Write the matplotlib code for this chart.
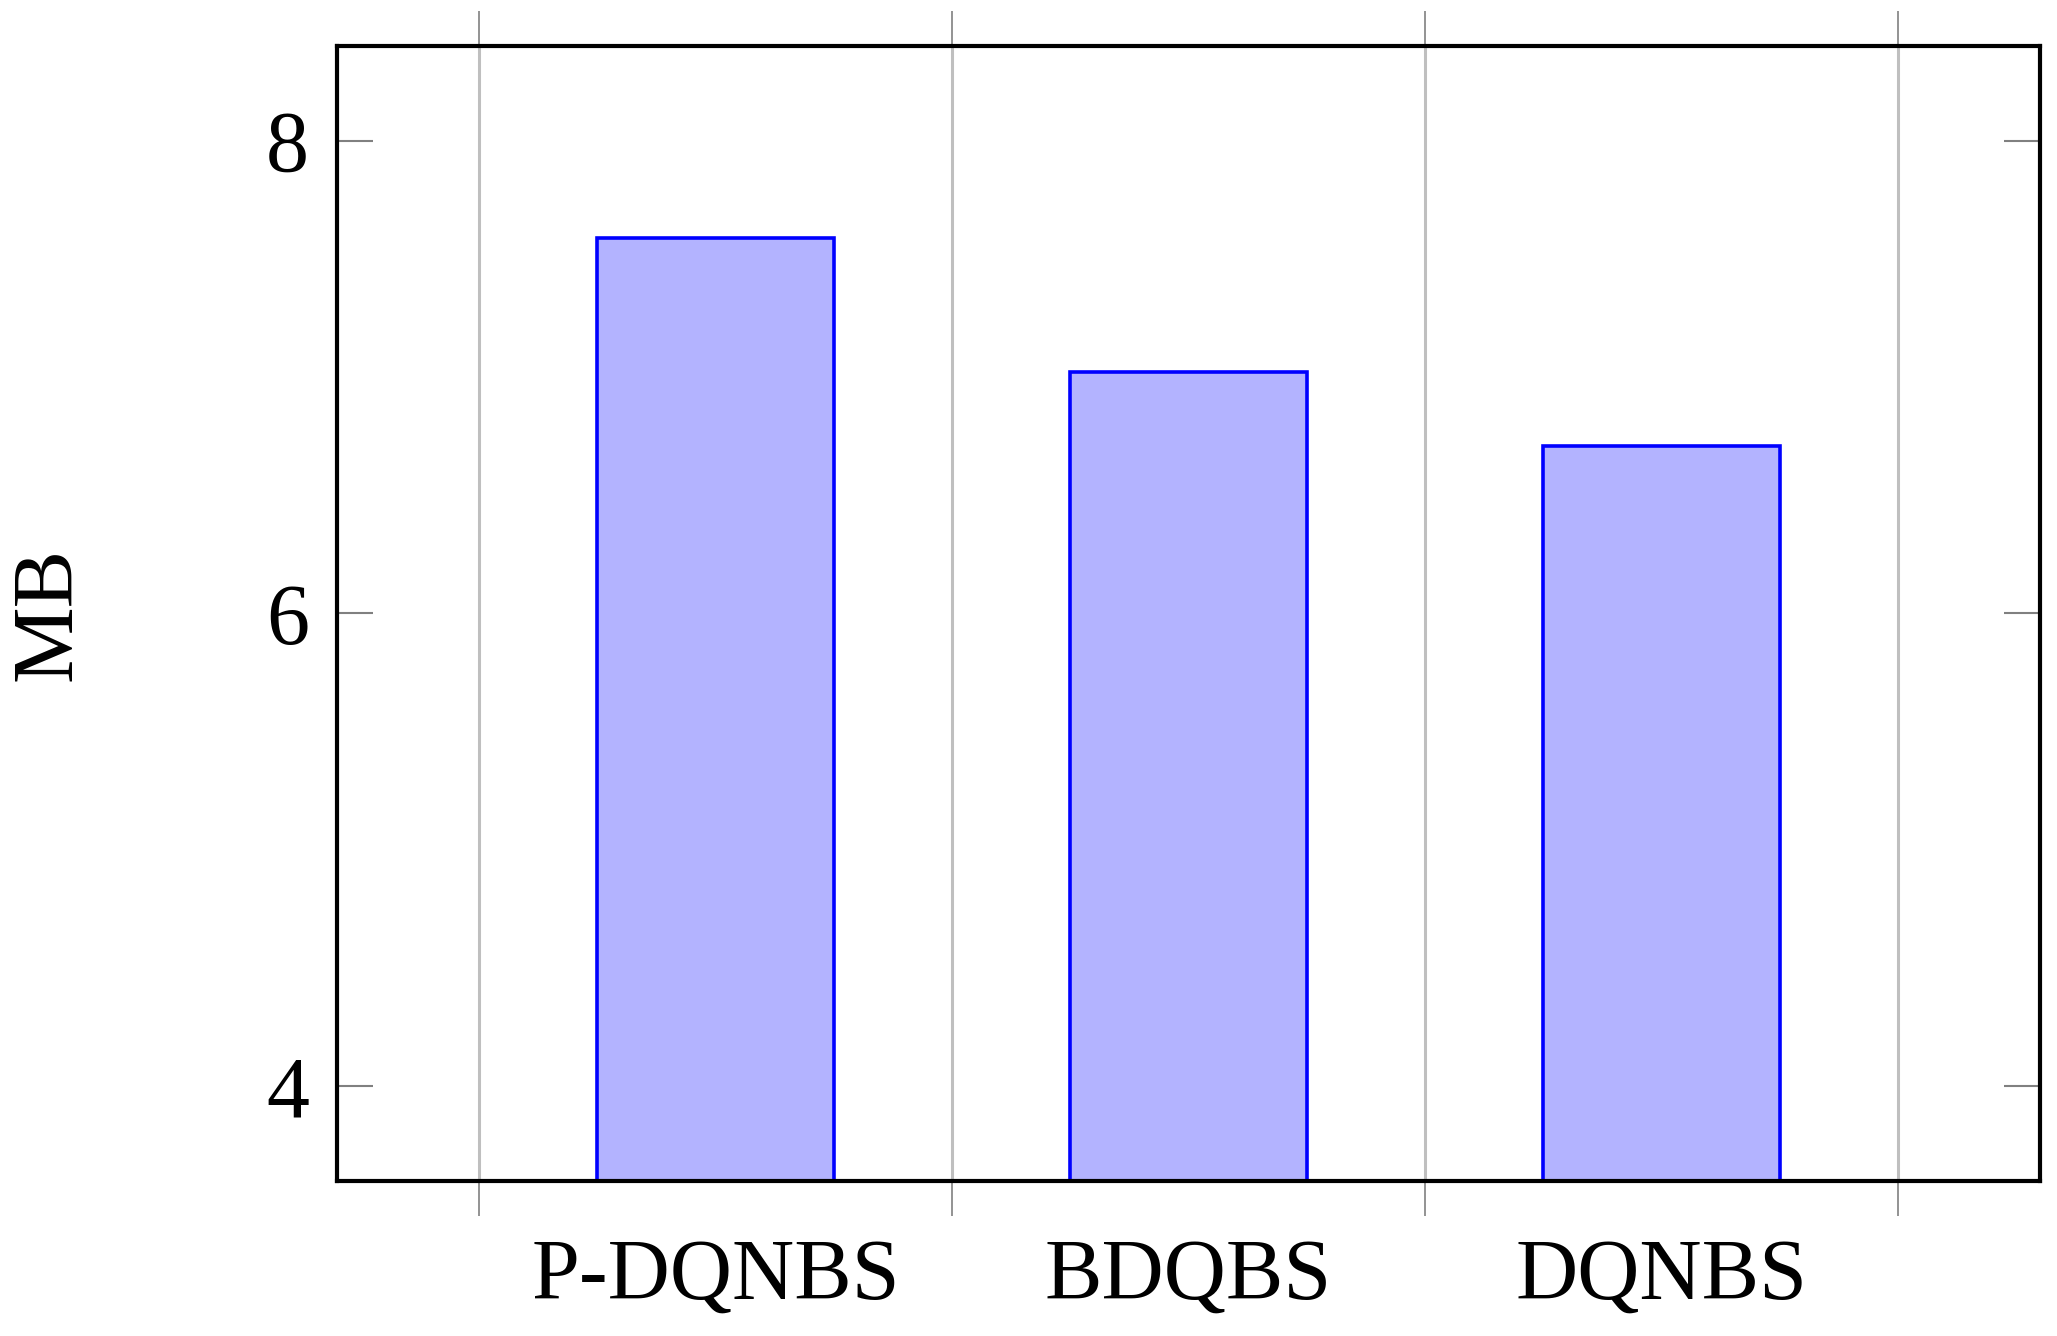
import matplotlib
matplotlib.use("Agg")
import matplotlib.pyplot as plt
from matplotlib.ticker import FixedLocator

# data
methods = ["P-DQNBS", "BDQBS", "DQNBS"]
memory_mb = [7.59, 7.02, 6.71]
y_ticks = [4, 6, 8]

FILL = "#b3b3ff"
EDGE = "#0000ff"
GRID = "#bfbfbf"
TICK = "#808080"
FS = 62

plt.rcParams["font.family"] = ["Liberation Serif", "DejaVu Serif"]

fig = plt.figure(figsize=(20.57, 13.36), dpi=100)
ax = fig.add_axes([0.1638, 0.1160, 0.8279, 0.8496])

x = list(range(1, len(methods) + 1))
ax.bar(x, memory_mb, width=0.5, color=FILL, edgecolor=EDGE, linewidth=2.6,
       zorder=3)

ax.set_xlim(0.2, 3.8)
ax.set_ylim(3.6, 8.4)

# labels under the bars, tick marks + grid between them
ax.set_xticks(x)
ax.set_xticklabels(methods, fontsize=FS)
ax.tick_params(axis="x", which="major", length=0, pad=41)
ax.xaxis.set_minor_locator(FixedLocator([0.5, 1.5, 2.5, 3.5]))
ax.tick_params(axis="x", which="minor", direction="out", length=25,
               width=1.2, color=TICK, top=True, bottom=True)
ax.grid(True, which="minor", axis="x", color=GRID, linewidth=2.2, zorder=0)

ax.set_yticks(y_ticks)
ax.set_yticklabels([str(t) for t in y_ticks], fontsize=FS)
ax.tick_params(axis="y", direction="in", length=26, width=1.5, color=TICK,
               left=True, right=True, pad=20)

ax.set_ylabel("MB", fontsize=FS, va="center")
ax.yaxis.set_label_coords(-0.1685, 0.5)

for s in ax.spines.values():
    s.set_linewidth(3.0)
    s.set_zorder(4)

fig.savefig("out.png", dpi=100)
